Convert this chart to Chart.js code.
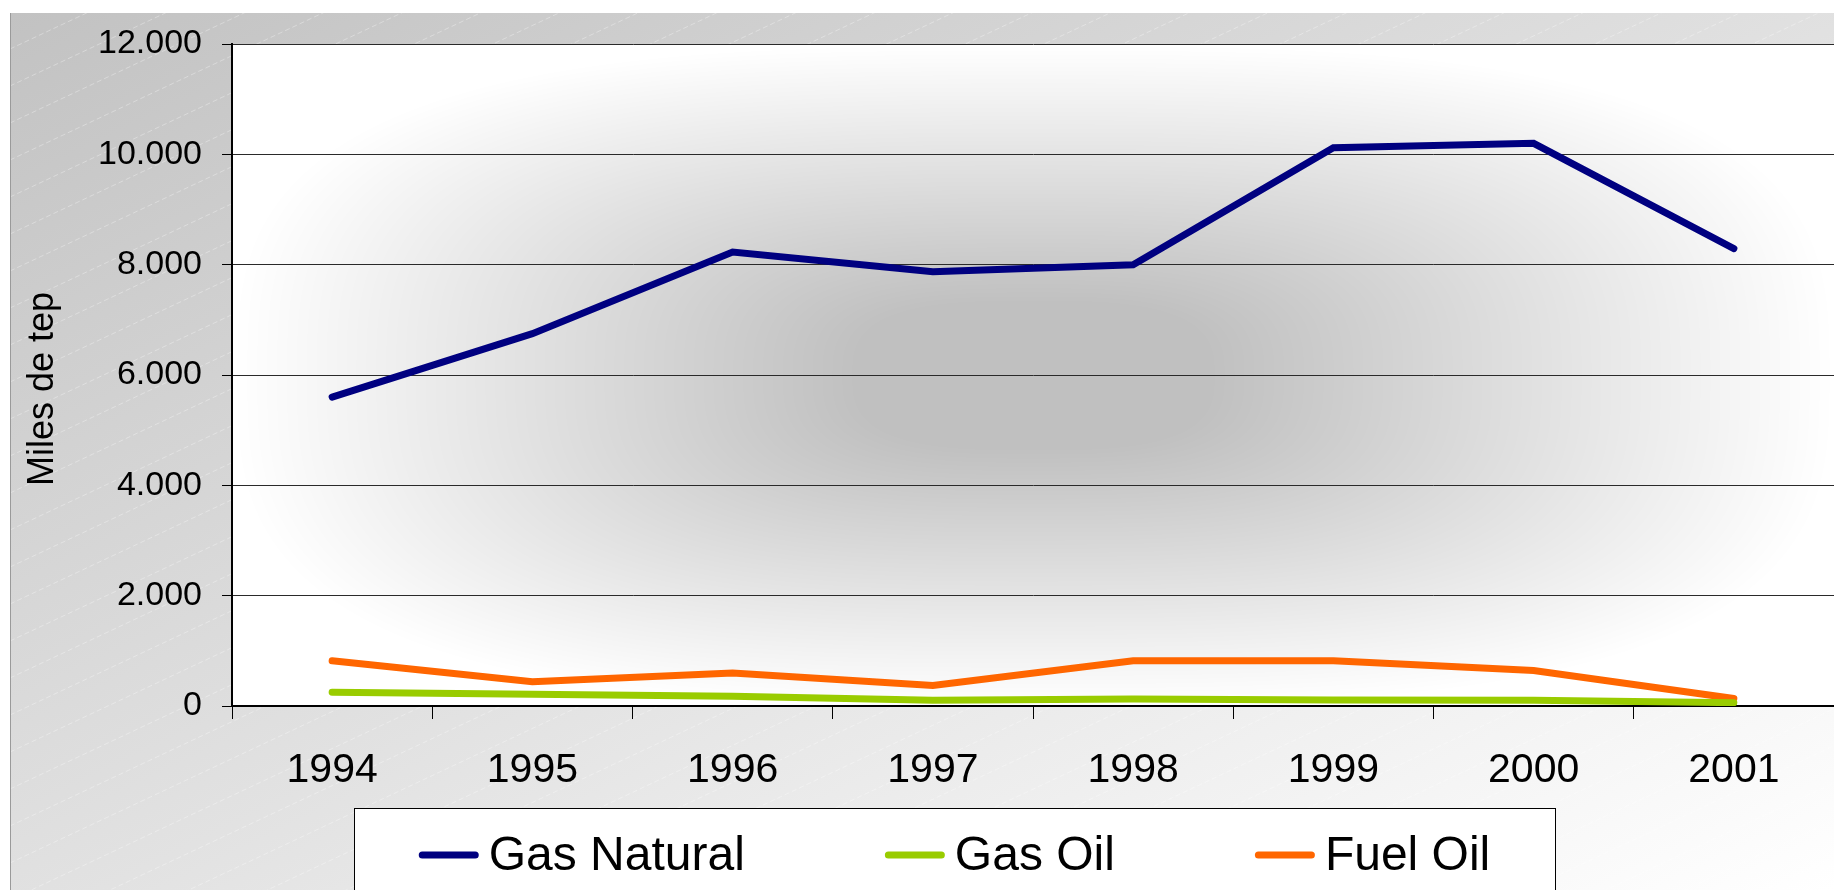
<!DOCTYPE html>
<html>
<head>
<meta charset="utf-8">
<script src="https://cdn.jsdelivr.net/npm/chart.js@4.4.0/dist/chart.umd.min.js"></script>
<style>
  html, body { margin: 0; padding: 0; background: #fff; }
  #wrap { width: 1834px; height: 890px; }
</style>
</head>
<body>
<div id="wrap"><canvas id="myChart" width="1834" height="890"></canvas></div>
<script>
const years = ['1994', '1995', '1996', '1997', '1998', '1999', '2000', '2001'];
const gasNatural = [5600, 6750, 8230, 7870, 8000, 10120, 10200, 8290];
const gasOil = [250, 215, 175, 105, 125, 110, 105, 60];
const fuelOil = [820, 440, 600, 370, 820, 820, 645, 135];
const seriesNames = ['Gas Natural', 'Gas Oil', 'Fuel Oil'];
const seriesColors = ['#000080', '#99cc00', '#ff6600'];
const yTitle = 'Miles de tep';

const FONT = '"Liberation Sans", Arial, sans-serif';

function fmt(v) {
    return String(v).replace(/\B(?=(\d{3})+(?!\d))/g, '.');
}

// grey frame with faint diagonal stripes + "from center" gradient in the plot area
const backdrop = {
    id: 'backdrop',
    beforeDraw(chart) {
        const ctx = chart.ctx;
        const a = chart.chartArea;
        const W = chart.width, H = chart.height;
        ctx.save();
        ctx.fillStyle = '#fff';
        ctx.fillRect(0, 0, W, H);

        const fx = 10, fy = 13, fw = W - fx, fh = H - fy;
        const s = 2 * fw * fh / (fw * fw + fh * fh);
        const g = ctx.createLinearGradient(fx, fy, fx + s * fh, fy + s * fw);
        g.addColorStop(0, '#c2c2c2');
        g.addColorStop(1, '#ffffff');
        ctx.fillStyle = g;
        ctx.fillRect(fx, fy, fw, fh);

        ctx.beginPath();
        ctx.rect(fx, fy, fw, fh);
        ctx.clip();
        ctx.strokeStyle = 'rgba(255,255,255,0.32)';
        ctx.lineWidth = 1;
        ctx.setLineDash([5, 3]);
        for (let c = 12; c < fy + fh + 0.47 * fw; c += 37) {
            ctx.beginPath();
            ctx.moveTo(fx, c);
            ctx.lineTo(fx + fw, c - 0.47 * fw);
            ctx.stroke();
        }
        ctx.setLineDash([]);
        ctx.fillStyle = '#9a9a9a';
        ctx.fillRect(fx, fy, 1, fh);
        ctx.restore();

        const pw = Math.round(a.right - a.left), ph = Math.round(a.bottom - a.top);
        const off = document.createElement('canvas');
        off.width = pw; off.height = ph;
        const octx = off.getContext('2d');
        const img = octx.createImageData(pw, ph);
        const hw = pw / 2, hh = ph / 2;
        for (let y = 0; y < ph; y++) {
            const dy = Math.abs(y - hh) / hh;
            for (let x = 0; x < pw; x++) {
                const dx = Math.abs(x - hw) / hw;
                const d = Math.pow(Math.pow(dx, 3) + Math.pow(dy, 3), 1 / 3);
                const t = Math.min(Math.max((1 - d) / 0.78, 0), 1);
                const c = 255 - 63 * t;
                const i = (y * pw + x) * 4;
                img.data[i] = c; img.data[i + 1] = c; img.data[i + 2] = c; img.data[i + 3] = 255;
            }
        }
        octx.putImageData(img, 0, 0);
        ctx.drawImage(off, a.left, a.top);
    }
};

const legendBox = {
    id: 'legendBox',
    afterDraw(chart) {
        const ctx = chart.ctx;
        ctx.save();
        // y axis title
        ctx.translate(43, 389);
        ctx.rotate(-Math.PI / 2);
        ctx.font = '36px ' + FONT;
        ctx.fillStyle = '#000';
        ctx.textAlign = 'center';
        ctx.textBaseline = 'middle';
        ctx.fillText(yTitle, 0, 0);
        ctx.restore();

        const bx = 354, by = 808, bw = 1201, bh = 100;
        ctx.save();
        ctx.fillStyle = '#fff';
        ctx.fillRect(bx, by, bw, bh);
        ctx.strokeStyle = '#000';
        ctx.lineWidth = 1;
        ctx.strokeRect(bx + 0.5, by + 0.5, bw, bh);

        ctx.font = '48px ' + FONT;
        const marker = 60, gapT = 10, gapItem = 140;
        const items = chart.data.datasets.map(d => ({ label: d.label, color: d.borderColor, w: ctx.measureText(d.label).width }));
        const total = items.reduce((sum, it) => sum + marker + gapT + it.w, 0) + gapItem * (items.length - 1);
        let x = bx + (bw - total) / 2;
        const y = 855;
        items.forEach(it => {
            ctx.strokeStyle = it.color;
            ctx.lineWidth = 7;
            ctx.lineCap = 'round';
            ctx.beginPath();
            ctx.moveTo(x + 3.5, y);
            ctx.lineTo(x + marker - 3.5, y);
            ctx.stroke();
            ctx.fillStyle = '#000';
            ctx.textBaseline = 'middle';
            ctx.textAlign = 'left';
            ctx.fillText(it.label, x + marker + gapT, y + 2);
            x += marker + gapT + it.w + gapItem;
        });
        ctx.restore();
    }
};

const ctx = document.getElementById('myChart').getContext('2d');
new Chart(ctx, {
    type: 'line',
    data: {
        labels: years,
        datasets: [gasNatural, gasOil, fuelOil].map((vals, i) => ({
            label: seriesNames[i],
            data: vals,
            borderColor: seriesColors[i],
            backgroundColor: seriesColors[i],
            borderWidth: 7,
            borderCapStyle: 'round',
            pointRadius: 0,
            tension: 0,
            fill: false
        }))
    },
    options: {
        responsive: false,
        animation: false,
        devicePixelRatio: 1,
        layout: { padding: { top: 44, right: 0, bottom: 0, left: 0 } },
        plugins: {
            legend: { display: false },
            tooltip: { enabled: false }
        },
        scales: {
            x: {
                offset: true,
                grid: { offset: true, drawOnChartArea: false, drawTicks: true, tickLength: 13, color: '#000', lineWidth: 1 },
                border: { color: '#000', width: 2 },
                ticks: { color: '#000', font: { family: FONT, size: 41 }, padding: 27, maxRotation: 0 },
                afterFit(s) { s.height = 184; }
            },
            y: {
                min: 0,
                max: 12000,
                ticks: {
                    stepSize: 2000,
                    color: '#000',
                    font: { family: FONT, size: 34 },
                    padding: 20,
                    callback: v => fmt(v)
                },
                grid: { color: '#2a2a2a', lineWidth: 1, tickLength: 10, tickColor: '#000' },
                border: { color: '#000', width: 2 },
                afterFit(s) { s.width = 232; }
            }
        }
    },
    plugins: [backdrop, legendBox]
});
</script>
</body>
</html>
